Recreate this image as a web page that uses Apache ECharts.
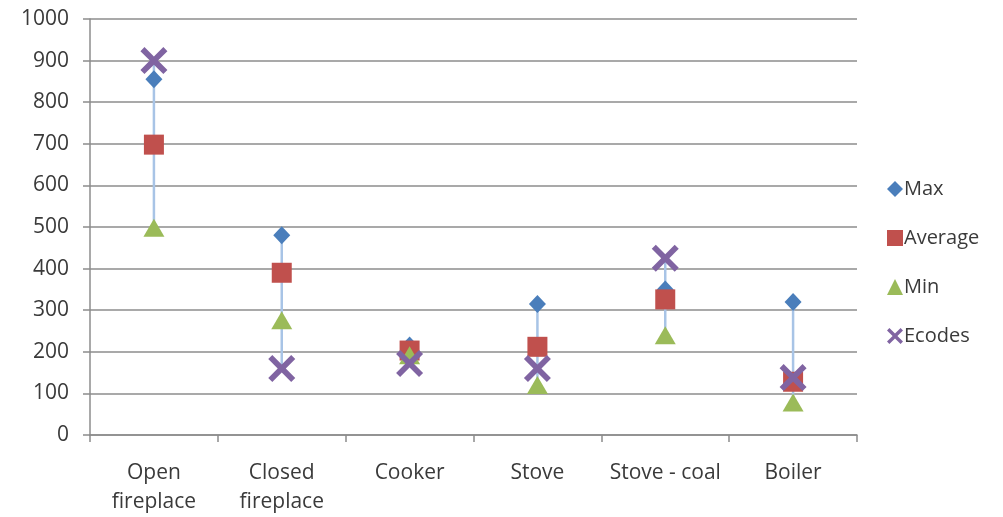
<!DOCTYPE html>
<html><head><meta charset="utf-8">
<script src="https://cdn.jsdelivr.net/npm/echarts@6/dist/echarts.min.js"></script>
<style>html,body{margin:0;padding:0;background:#fff}#c{width:1003px;height:517px}</style>
</head><body><div id="c"></div>
<script>
var categories = ['Open\nfireplace', 'Closed\nfireplace', 'Cooker', 'Stove', 'Stove - coal', 'Boiler'];
var maxVals = [855, 480, 215, 315, 350, 320];
var avgVals = [698, 390, 203, 212, 326, 128];
var minVals = [498, 276, 192, 120, 240, 78];
var ecodesVals = [900, 160, 172, 160, 425, 138];
var yTicks = [0, 1000, 100];

var XPATH = 'path://M0,3 L3,0 L10,7 L17,0 L20,3 L13,10 L20,17 L17,20 L10,13 L3,20 L0,17 L7,10 Z';
var font = '"Open Sans", sans-serif';
var txt = '#3a3a3a';

var hiLo = categories.map(function (c, i) {
  var v = [maxVals[i], avgVals[i], minVals[i], ecodesVals[i]];
  return [i, Math.min.apply(null, v), Math.max.apply(null, v)];
});

var chart = echarts.init(document.getElementById('c'));
chart.setOption({
  animation: false,
  textStyle: { fontFamily: font },
  grid: { left: 90, right: 146, top: 19, bottom: 80, containLabel: false },
  legend: {
    orient: 'vertical', left: 882, top: 174, itemGap: 29, itemWidth: 16, itemHeight: 16,
    textStyle: { fontSize: 20, color: txt, fontFamily: font, padding: [0, 0, 0, -4] },
    data: [
      { name: 'Max', icon: 'diamond' },
      { name: 'Average', icon: 'rect' },
      { name: 'Min', icon: 'triangle' },
      { name: 'Ecodes', icon: XPATH }
    ]
  },
  xAxis: {
    type: 'category', data: categories, boundaryGap: true,
    axisLine: { lineStyle: { color: '#8c8c8c', width: 1.5 } },
    axisTick: { show: true, alignWithLabel: false, length: 7, lineStyle: { color: '#8c8c8c', width: 1.5 } },
    axisLabel: { fontSize: 21, color: txt, margin: 24, lineHeight: 29, interval: 0, fontFamily: font }
  },
  yAxis: {
    type: 'value', min: yTicks[0], max: yTicks[1], interval: yTicks[2],
    axisLine: { show: true, lineStyle: { color: '#8c8c8c', width: 1.5 } },
    axisTick: { show: true, length: 7, lineStyle: { color: '#8c8c8c', width: 1.5 } },
    axisLabel: { fontSize: 21, color: txt, margin: 21, fontFamily: font, formatter: function (v) { return String(v); } },
    splitLine: { lineStyle: { color: '#8c8c8c', width: 1.5 } }
  },
  series: [
    {
      type: 'custom', name: 'hilo', silent: true, z: 1,
      data: hiLo,
      renderItem: function (params, api) {
        var p1 = api.coord([api.value(0), api.value(1)]);
        var p2 = api.coord([api.value(0), api.value(2)]);
        return { type: 'line', shape: { x1: p1[0], y1: p1[1], x2: p2[0], y2: p2[1] },
                 style: { stroke: '#a8c4e6', lineWidth: 2.5 } };
      },
      encode: { x: 0, y: [1, 2] }
    },
    { name: 'Max', type: 'scatter', data: maxVals, symbol: 'diamond', symbolSize: [17, 18], z: 3,
      itemStyle: { color: '#4a7ebb', opacity: 1 } },
    { name: 'Average', type: 'scatter', data: avgVals, symbol: 'rect', symbolSize: 20, z: 3,
      itemStyle: { color: '#c0504d', opacity: 1 } },
    { name: 'Min', type: 'scatter', data: minVals, symbol: 'triangle', symbolSize: [21, 18], z: 3,
      itemStyle: { color: '#9bbb59', opacity: 1 } },
    { name: 'Ecodes', type: 'scatter', data: ecodesVals, symbol: XPATH, symbolSize: 27, z: 4,
      itemStyle: { color: '#8064a2', opacity: 1 } }
  ]
});
</script></body></html>
